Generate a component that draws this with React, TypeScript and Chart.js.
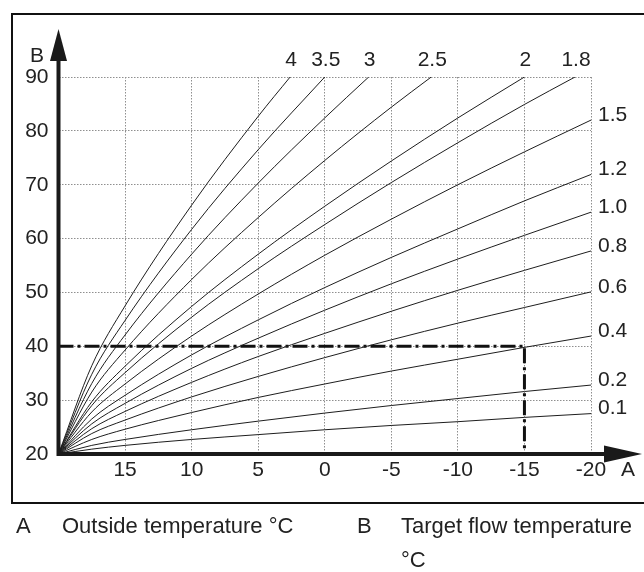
import React, { useEffect, useRef } from 'react';
import { Chart, registerables } from 'chart.js';

Chart.register(...registerables);

const FONT = '"Liberation Sans", Arial, Helvetica, sans-serif';

// Outside temperature (°C) sample points, read along the grid
const outsideTemps = [20, 17.5, 15, 10, 5, 0, -5, -10, -15, -20];
const xTickValues = [20, 15, 10, 5, 0, -5, -10, -15, -20];
const yTickValues = [20, 30, 40, 50, 60, 70, 80, 90];

// Heating curve labels (slope)
const curveNames = ['0.1', '0.2', '0.4', '0.6', '0.8', '1.0', '1.2', '1.5', '1.8', '2', '2.5', '3', '3.5', '4'];

// Target flow temperature (°C) read at outsideTemps
const curve01 = [20, 20.9, 21.6, 22.7, 23.6, 24.5, 25.3, 26.0, 26.8, 27.5];
const curve02 = [20, 21.6, 22.7, 24.5, 26.1, 27.6, 29.0, 30.3, 31.6, 32.8];
const curve04 = [20, 22.7, 24.6, 27.7, 30.5, 33.0, 35.4, 37.6, 39.8, 41.9];
const curve06 = [20, 23.8, 26.3, 30.6, 34.4, 37.9, 41.2, 44.3, 47.2, 50.1];
const curve08 = [20, 24.7, 27.9, 33.3, 38.1, 42.4, 46.5, 50.4, 54.1, 57.7];
const curve10 = [20, 25.6, 29.4, 35.9, 41.5, 46.7, 51.6, 56.2, 60.6, 64.9];
const curve12 = [20, 26.5, 30.9, 38.4, 44.9, 50.9, 56.5, 61.8, 67.0, 71.9];
const curve15 = [20, 27.8, 33.0, 41.9, 49.7, 56.9, 63.6, 70.0, 76.1, 82.0];
const curve18 = [20, 29.0, 35.1, 45.4, 54.4, 62.6, 70.4, 77.8, 84.9];
const curve20 = [20, 29.7, 36.3, 47.4, 57.1, 66.0, 74.4, 82.4, 90];
const curve25 = [20, 31.5, 39.3, 52.4, 63.9, 74.5, 84.4];
const curve30 = [20, 33.1, 42.1, 57.1, 70.3, 82.4];
const curve35 = [20, 34.8, 44.8, 61.7, 76.5, 90];
const curve40 = [20, 36.4, 47.5, 66.2, 82.7];

const curveValues = [curve01, curve02, curve04, curve06, curve08, curve10, curve12, curve15, curve18, curve20, curve25, curve30, curve35, curve40];

// Where the steep curves meet the 90 °C limit: [outside temp, flow temp]
const curveEnds: (number[] | null)[] = [null, null, null, null, null, null, null, null, [-18.8, 90], null, [-8, 90], [-3.3, 90], null, [2.6, 90]];

// Example reading: design outside temperature and flow temperature
const exampleOutside = -15;
const exampleFlow = 40;

const TEXT = '#222';

export default function App() {
  const ref = useRef<HTMLCanvasElement | null>(null);

  useEffect(() => {
    const canvas = ref.current;
    if (!canvas) return;

    const curveSets = curveValues.map((vals, i) => {
      const pts = vals.map((v, j) => ({ x: outsideTemps[j], y: v }));
      const end = curveEnds[i];
      if (end) pts.push({ x: end[0], y: end[1] });
      return {
        label: curveNames[i],
        data: pts,
        borderColor: '#1e1e1e',
        borderWidth: 1,
        pointRadius: 0,
        fill: false,
        cubicInterpolationMode: 'monotone' as const,
      };
    });

    const exampleSet = {
      label: 'example',
      data: [
        { x: 20, y: exampleFlow },
        { x: exampleOutside, y: exampleFlow },
        { x: exampleOutside, y: 20 },
      ],
      borderColor: '#111',
      borderWidth: 3,
      borderDash: [15, 4, 3, 4],
      pointRadius: 0,
      fill: false,
      tension: 0,
    };

    const decor = {
      id: 'decor',
      beforeDraw(chart: any) {
        const c = chart.ctx;
        c.save();
        c.fillStyle = '#fff';
        c.fillRect(0, 0, chart.width, chart.height);
        c.strokeStyle = '#111';
        c.lineWidth = 2;
        c.strokeRect(12, 14, 660, 489);
        c.restore();
      },
      afterDatasetsDraw(chart: any) {
        const c = chart.ctx;
        const xs = chart.scales.x;
        const ys = chart.scales.y;
        const area = chart.chartArea;
        c.save();
        c.fillStyle = TEXT;
        c.font = `21px ${FONT}`;
        c.textBaseline = 'middle';
        chart.data.datasets.forEach((ds: any, i: number) => {
          if (i >= curveNames.length) return;
          const last = ds.data[ds.data.length - 1];
          const px = xs.getPixelForValue(last.x);
          const py = ys.getPixelForValue(last.y);
          if (last.y >= 90) {
            c.textAlign = 'center';
            c.fillText(curveNames[i], px + 1, area.top - 17);
          } else {
            c.textAlign = 'left';
            c.fillText(curveNames[i], area.right + 7, py - 5);
          }
        });

        // axes
        const ox = xs.getPixelForValue(20);
        const oy = ys.getPixelForValue(20);
        c.strokeStyle = '#1a1a1a';
        c.fillStyle = '#1a1a1a';
        c.lineWidth = 4;
        c.beginPath();
        c.moveTo(ox, oy + 2);
        c.lineTo(ox, 58);
        c.moveTo(ox - 2, oy);
        c.lineTo(606, oy);
        c.stroke();
        // y arrow
        c.beginPath();
        c.moveTo(ox, 29);
        c.lineTo(ox - 8.5, 61);
        c.lineTo(ox + 8.5, 61);
        c.closePath();
        c.fill();
        // x arrow
        c.beginPath();
        c.moveTo(642, oy);
        c.lineTo(604, oy - 8.5);
        c.lineTo(604, oy + 8.5);
        c.closePath();
        c.fill();

        c.fillStyle = TEXT;
        c.font = `21px ${FONT}`;
        c.textAlign = 'center';
        c.textBaseline = 'middle';
        c.fillText('A', 628, 470);
        c.fillText('B', 37, 56);
        c.restore();
      },
    };

    const chart = new Chart(canvas, {
      type: 'line',
      data: { datasets: [...curveSets, exampleSet] as any },
      options: {
        animation: false,
        responsive: false,
        devicePixelRatio: 1,
        layout: { padding: { left: 0, top: 77, right: 53, bottom: 78 } },
        plugins: { legend: { display: false }, tooltip: { enabled: false } },
        scales: {
          x: {
            type: 'linear',
            min: -20,
            max: 20,
            reverse: true,
            afterFit: (s: any) => { s.height = 40; },
            afterBuildTicks: (s: any) => { s.ticks = xTickValues.map((v) => ({ value: v })); },
            ticks: {
              autoSkip: false,
              maxRotation: 0,
              padding: 4,
              color: TEXT,
              font: { family: FONT, size: 21 },
              callback: (v: any) => (v === 20 ? '' : String(v)),
            },
            grid: { color: '#8f8f8f', lineWidth: 1, drawTicks: false },
            border: { display: false, dash: [1.5, 1.5] },
          },
          y: {
            type: 'linear',
            min: 20,
            max: 90,
            afterFit: (s: any) => { s.width = 58.5; },
            afterBuildTicks: (s: any) => { s.ticks = yTickValues.map((v) => ({ value: v })); },
            ticks: {
              padding: 10,
              color: TEXT,
              font: { family: FONT, size: 21 },
              callback: (v: any) => String(v),
            },
            grid: { color: '#8f8f8f', lineWidth: 1, drawTicks: false },
            border: { display: false, dash: [1.5, 1.5] },
          },
        },
      },
      plugins: [decor],
    });

    return () => chart.destroy();
  }, []);

  const cap: React.CSSProperties = {
    position: 'absolute',
    fontFamily: FONT,
    fontSize: 22,
    lineHeight: '24px',
    color: TEXT,
    whiteSpace: 'nowrap',
  };

  return (
    <div style={{ position: 'fixed', left: 0, top: 0, width: 644, height: 572, background: '#fff', overflow: 'hidden' }}>
      <canvas ref={ref} width={644} height={572} style={{ position: 'absolute', left: 0, top: 0, width: 644, height: 572 }} />
      <div style={{ ...cap, left: 16, top: 514 }}>A</div>
      <div style={{ ...cap, left: 62, top: 514 }}>Outside temperature °C</div>
      <div style={{ ...cap, left: 357, top: 514 }}>B</div>
      <div style={{ ...cap, left: 401, top: 514 }}>Target flow temperature</div>
      <div style={{ ...cap, left: 401, top: 548 }}>°C</div>
    </div>
  );
}
